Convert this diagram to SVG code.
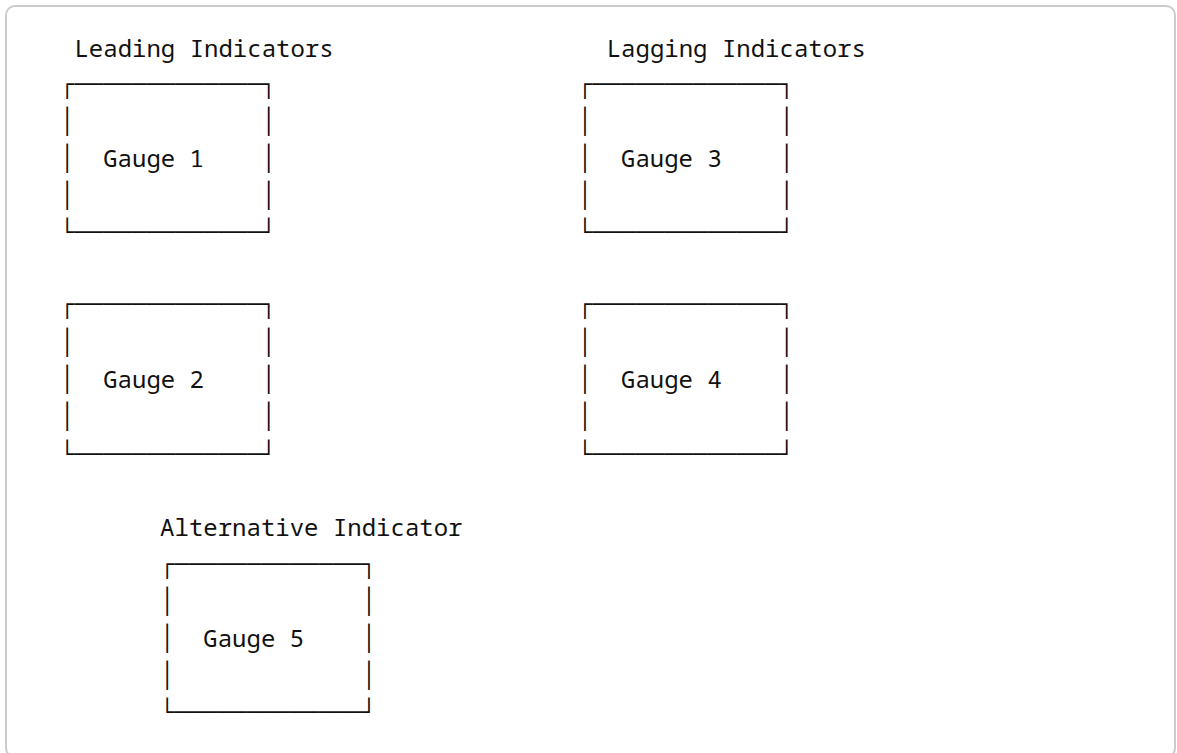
<svg xmlns="http://www.w3.org/2000/svg" width="1177" height="753" viewBox="0 0 1177 753" xml:space="preserve">
<style>
.t{font-family:"Noto Sans Mono","DejaVu Sans Mono","Liberation Mono",monospace;font-size:24px;fill:#111111;white-space:pre}
</style>
<rect x="0" y="0" width="1177" height="753" fill="#ffffff"/>
<rect x="6" y="6" width="1169" height="751" rx="9" ry="9" fill="#ffffff" stroke="#cccccc" stroke-width="2"/>
<g id="titles">
<text class="t" x="74.45" y="56.5">Leading Indicators</text>
<text class="t" x="606.7" y="56.5">Lagging Indicators</text>
<text class="t" x="160.1" y="535.8">Alternative Indicator</text>
</g>
<g id="gauge1">
<text class="t" x="60" y="92.6">┌─────────────┐</text>
<text class="t" x="60" y="129.8">│             │</text>
<text class="t" x="60" y="167">│  Gauge 1    │</text>
<text class="t" x="60" y="204.2">│             │</text>
<text class="t" x="60" y="241.4">└─────────────┘</text>
</g>
<g id="gauge2">
<text class="t" x="60" y="313.3">┌─────────────┐</text>
<text class="t" x="60" y="350.6">│             │</text>
<text class="t" x="60" y="387.9">│  Gauge 2    │</text>
<text class="t" x="60" y="425.2">│             │</text>
<text class="t" x="60" y="462.5">└─────────────┘</text>
</g>
<g id="gauge3">
<text class="t" x="577.8" y="92.6">┌─────────────┐</text>
<text class="t" x="577.8" y="129.8">│             │</text>
<text class="t" x="577.8" y="167">│  Gauge 3    │</text>
<text class="t" x="577.8" y="204.2">│             │</text>
<text class="t" x="577.8" y="241.4">└─────────────┘</text>
</g>
<g id="gauge4">
<text class="t" x="577.8" y="313.3">┌─────────────┐</text>
<text class="t" x="577.8" y="350.6">│             │</text>
<text class="t" x="577.8" y="387.9">│  Gauge 4    │</text>
<text class="t" x="577.8" y="425.2">│             │</text>
<text class="t" x="577.8" y="462.5">└─────────────┘</text>
</g>
<g id="gauge5">
<text class="t" x="160.1" y="572.6">┌─────────────┐</text>
<text class="t" x="160.1" y="609.7">│             │</text>
<text class="t" x="160.1" y="646.8">│  Gauge 5    │</text>
<text class="t" x="160.1" y="683.9">│             │</text>
<text class="t" x="160.1" y="721">└─────────────┘</text>
</g>
<g id="connectors"/>
</svg>
